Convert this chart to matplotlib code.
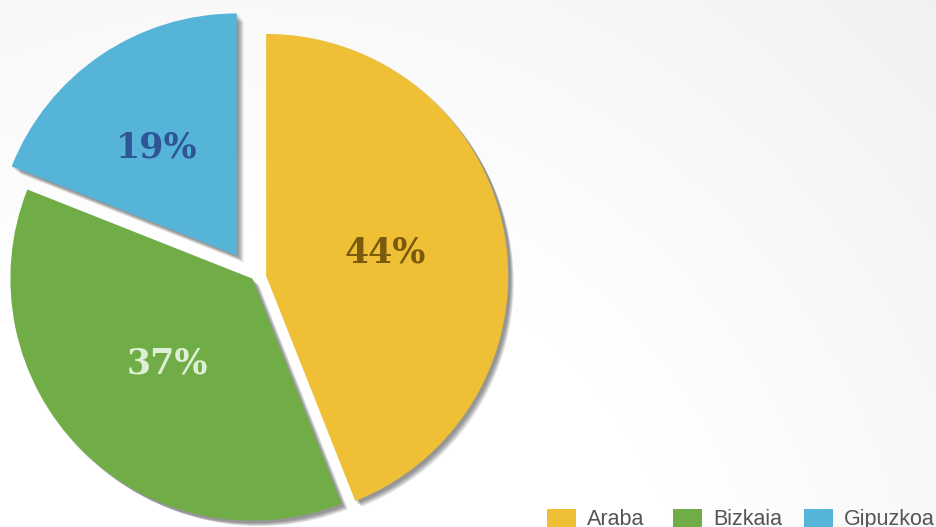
import numpy as np
import matplotlib
matplotlib.use("Agg")
import matplotlib.pyplot as plt
from matplotlib.patches import Wedge, Rectangle

categories = ["Araba", "Bizkaia", "Gipuzkoa"]
values = [44, 37, 19]
labels = ["44%", "37%", "19%"]
colors = ["#EFC035", "#70AD47", "#56B4D9"]
label_colors = ["#7A5A0C", "#DDEFD4", "#2F5597"]
explode = [14, 0, 28]

W, H = 937, 527
fig = plt.figure(figsize=(W / 100, H / 100), dpi=100)
ax = fig.add_axes([0, 0, 1, 1])

# background radial gradient
yy, xx = np.mgrid[0:H, 0:W]
d = np.sqrt((xx - 250.0) ** 2 + ((H - yy) - (-150.0)) ** 2)
t = np.clip((d - 450) / 700, 0, 1)
g = 1.0 - 0.075 * t
bg = np.dstack([g, g, g])
ax.imshow(bg, extent=[0, W, 0, H], origin="upper", zorder=0, aspect="auto")

cx, cy = 252.4, H - 278.6
R = 242

wedges, _ = ax.pie(values, colors=colors, startangle=90, counterclock=False,
                   explode=explode, radius=R, center=(cx, cy),
                   wedgeprops=dict(linewidth=0), frame=True)
for w in wedges:
    w.set_zorder(3)

# soft shadows
for w in wedges:
    for k in range(9):
        off = 1.5 + k * 0.7
        sh = Wedge((w.center[0] + off, w.center[1] - off), w.r + 1.0 - k * 0.3,
                   w.theta1, w.theta2, facecolor="black", alpha=0.055,
                   linewidth=0, zorder=2)
        ax.add_patch(sh)

ax.set_xlim(0, W)
ax.set_ylim(0, H)
ax.set_aspect("equal")
ax.axis("off")

label_pos = [(385, H - 252), (167, H - 363), (157, H - 147)]
for (x, y), s, c in zip(label_pos, labels, label_colors):
    ax.text(x, y, s, ha="center", va="center", fontsize=25, color=c,
            fontfamily="DejaVu Serif", fontweight="bold", zorder=5)

# legend (clipped at bottom edge, as in the reference)
leg_x = [547, 673, 804]
for x, c, name in zip(leg_x, colors, categories):
    ax.add_patch(Rectangle((x, H - 527 - 12), 29, 30, facecolor=c,
                           linewidth=0, zorder=5, clip_on=True))
    ax.text(x + 40, H - 525, name, ha="left", va="baseline", fontsize=15.5,
            color="#555555", fontfamily="Liberation Sans", zorder=5)

fig.savefig("out.png", dpi=100)
